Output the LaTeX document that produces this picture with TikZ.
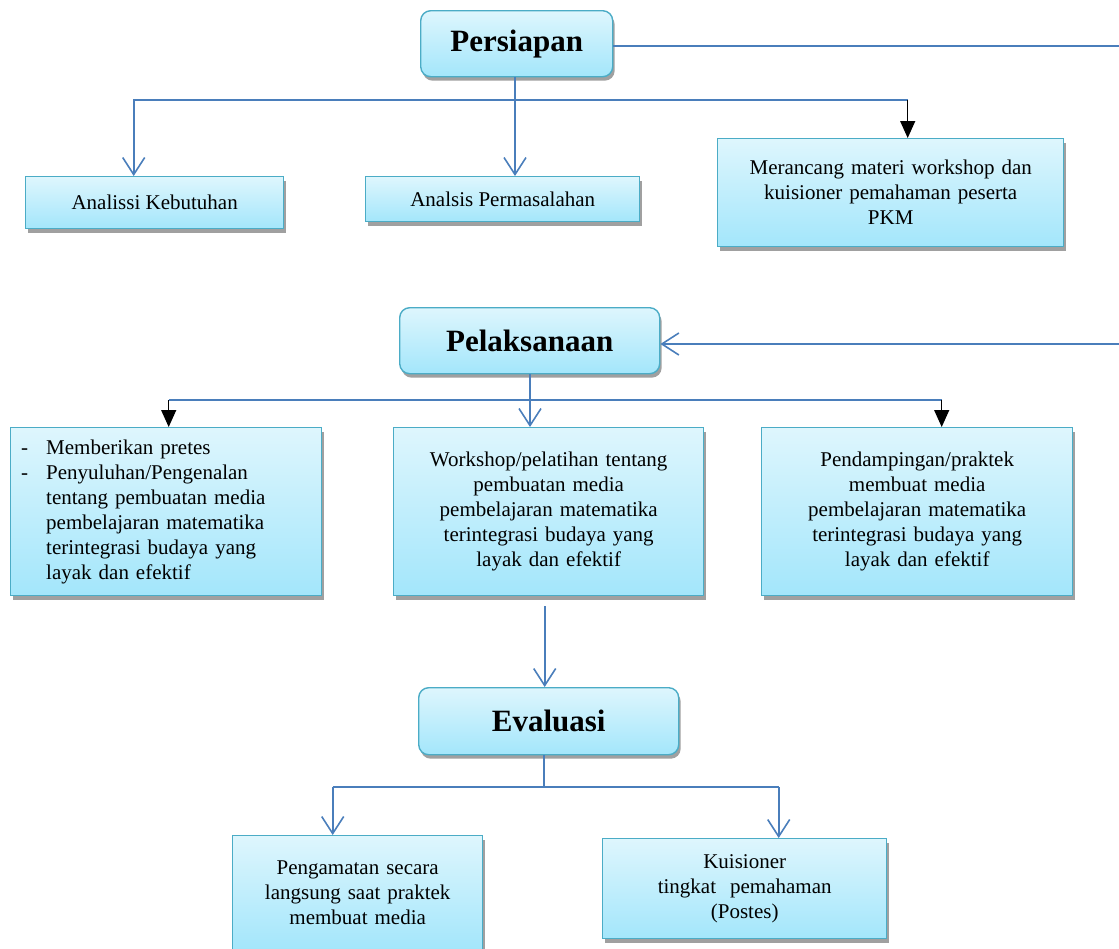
\documentclass[tikz,border=0pt]{standalone}
\usepackage{fontspec}
\setmainfont{Liberation Serif}
\usetikzlibrary{arrows.meta,shadows}
\definecolor{lineblue}{HTML}{4A7EBB}
\definecolor{boxborder}{HTML}{4BACC6}
\definecolor{boxtop}{HTML}{DEF6FD}
\definecolor{boxbot}{HTML}{A3E6FB}
\definecolor{shadowgray}{HTML}{A0A0A0}
\tikzset{
  box/.style={draw=boxborder, line width=1.4pt, top color=boxtop, bottom color=boxbot,
    general shadow={fill=shadowgray, shadow xshift=2pt, shadow yshift=-4pt},
    inner sep=0pt, anchor=north west, align=center,
    font=\fontsize{21}{25}\selectfont},
  headbox/.style={box, rounded corners=10pt, font=\fontsize{31}{36}\selectfont\bfseries},
  conn/.style={draw=lineblue, line width=1.6pt},
  openarr/.style={conn, -{Straight Barb[length=17pt,width=22pt,line width=1.6pt]}},
  blackarr/.style={draw=black, line width=1.3pt, -{Triangle[length=17pt,width=15pt]}},
}
\begin{document}
\begin{tikzpicture}[x=1pt,y=-1pt]
\useasboundingbox (0,0) rectangle (1119,948);

% ---- Persiapan level
\node[headbox, minimum width=192pt, minimum height=66pt] (per) at (420,10) {Persiapan};
\node[box, minimum width=258pt, minimum height=52pt] (ana) at (25,176) {Analissi Kebutuhan};
\node[box, minimum width=274pt, minimum height=45pt] (anp) at (365,176) {Analsis Permasalahan};
\node[box, minimum width=346pt, minimum height=108pt, text width=330pt] (mer) at (717,138)
  {Merancang materi workshop dan\\kuisioner pemahaman peserta\\PKM};

\coordinate (rout) at (1119,46);
\coordinate (j1) at (515,100);
\draw[conn] (per.east |- rout) -- (rout);
\draw[conn] (per.south -| j1) -- (j1);
\draw[openarr] (j1) -- (j1 |- anp.north);
\draw[openarr] (j1) -| ([xshift=-21pt]ana.north);
\draw[conn] (j1) -- ([xshift=17pt]mer.north |- j1);
\draw[blackarr] ([xshift=17pt]mer.north |- j1) -- ([xshift=17pt]mer.north);

% ---- Pelaksanaan level
\node[headbox, minimum width=260pt, minimum height=66pt] (pel) at (399,307) {Pelaksanaan};
\node[box, minimum width=311pt, minimum height=168pt, text width=290pt, align=left] (pa) at (10,427)
  {\makebox[25pt][l]{-}Memberikan pretes\\
   \makebox[25pt][l]{-}Penyuluhan/Pengenalan\\
   \hspace*{25pt}tentang pembuatan media\\
   \hspace*{25pt}pembelajaran matematika\\
   \hspace*{25pt}terintegrasi budaya yang\\
   \hspace*{25pt}layak dan efektif};
\node[box, minimum width=310pt, minimum height=168pt, text width=300pt] (pb) at (393,427)
  {Workshop/pelatihan tentang\\pembuatan media\\pembelajaran matematika\\terintegrasi budaya yang\\layak dan efektif};
\node[box, minimum width=311pt, minimum height=168pt, text width=300pt] (pc) at (761,427)
  {Pendampingan/praktek\\membuat media\\pembelajaran matematika\\terintegrasi budaya yang\\layak dan efektif};

\coordinate (rin) at (1119,344);
\coordinate (j2) at (530,400);
\draw[openarr] (rin) -- (pel.east |- rin);
\draw[conn] (pel.south -| j2) -- (j2);
\draw[openarr] (j2) -- (j2 |- pb.north);
\draw[conn] ([xshift=2.5pt]pa.north |- j2) -- ([xshift=24.5pt]pc.north |- j2);
\draw[blackarr] ([xshift=2.5pt]pa.north |- j2) -- ([xshift=2.5pt]pa.north);
\draw[blackarr] ([xshift=24.5pt]pc.north |- j2) -- ([xshift=24.5pt]pc.north);

% ---- Evaluasi level
\node[headbox, minimum width=260pt, minimum height=67pt] (eva) at (418,687) {Evaluasi};
\node[box, minimum width=250pt, minimum height=115pt, text width=240pt] (ea) at (232,835)
  {Pengamatan secara\\langsung saat praktek\\membuat media};
\node[box, minimum width=284pt, minimum height=100pt, text width=270pt] (eb) at (602,838)
  {Kuisioner\\tingkat~~pemahaman\\(Postes)};

\coordinate (j3) at (544,787);
\draw[openarr] ([xshift=-4pt,yshift=-10pt]pb.south) -- ([xshift=-4pt]eva.north);
\draw[conn] (eva.south -| j3) -- (j3);
\draw[conn] ([xshift=-25pt]ea.north |- j3) -- ([xshift=34pt]eb.north |- j3);
\draw[openarr] ([xshift=-25pt]ea.north |- j3) -- ([xshift=-25pt]ea.north);
\draw[openarr] ([xshift=34pt]eb.north |- j3) -- ([xshift=34pt]eb.north);
\end{tikzpicture}
\end{document}
